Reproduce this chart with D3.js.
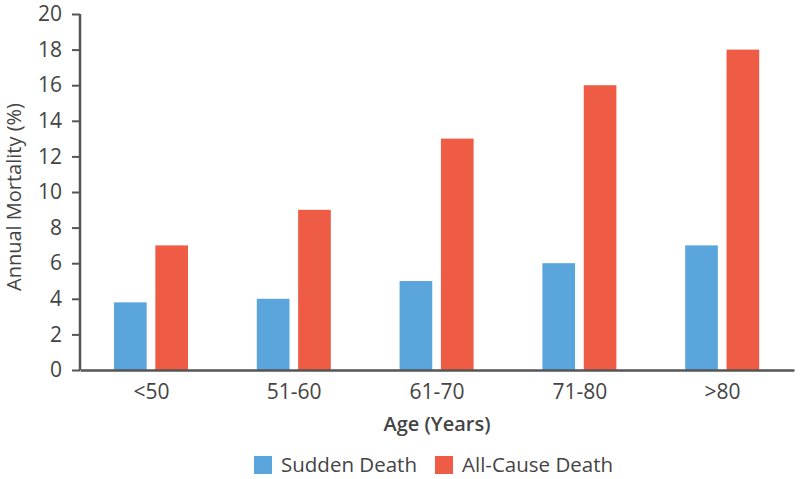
<!DOCTYPE html>
<html><head><meta charset="utf-8">
<script src="https://cdn.jsdelivr.net/npm/d3@7"></script>
<style>body{margin:0;background:#fff}svg text{font-family:"Open Sans",sans-serif;fill:#444}</style>
</head><body><svg id="c" width="800" height="479"></svg>
<script>
const categories = ["<50","51-60","61-70","71-80",">80"];
const suddenDeath = [3.8, 4, 5, 6, 7];
const allCauseDeath = [7, 9, 13, 16, 18];
const seriesNames = ["Sudden Death","All-Cause Death"];
const colors = ["#59a5dc","#ef5c45"];
const yTicks = [0,2,4,6,8,10,12,14,16,18,20];

const svg = d3.select("#c");
const x0 = d3.scaleBand().domain(categories).range([80,794]).padding(0);
const x1 = d3.scaleBand().domain(seriesNames).range([34,108]).paddingInner(0.21);
const y = d3.scaleLinear().domain([0,20]).range([370,14]);
const data = [suddenDeath, allCauseDeath];

const g = svg.append("g");
categories.forEach((c,i)=>{
  seriesNames.forEach((s,j)=>{
    g.append("rect").attr("x", x0(c)+x1(s)).attr("width", x1.bandwidth())
      .attr("y", y(data[j][i])).attr("height", y(0)-y(data[j][i])).attr("fill", colors[j]);
  });
});

const ya = svg.append("g").attr("transform","translate(80,0)")
  .call(d3.axisLeft(y).tickValues(yTicks).tickSize(8).tickPadding(10));
ya.select(".domain").attr("stroke","#555").attr("stroke-width",2.5).attr("d","M0,14V370");
ya.selectAll(".tick line").attr("stroke","#555").attr("stroke-width",2);
ya.selectAll(".tick text").attr("font-size",21).attr("fill","#444");

const xa = svg.append("g").attr("transform","translate(0,370)")
  .call(d3.axisBottom(x0).tickSize(0).tickPadding(14));
xa.select(".domain").attr("stroke","#555").attr("stroke-width",2.5);
xa.selectAll(".tick text").attr("font-size",21).attr("fill","#444").attr("dy","0.71em");

svg.append("text").attr("x",437).attr("y",431).attr("text-anchor","middle")
  .attr("font-size",20).attr("font-weight",600).text("Age (Years)");
svg.append("text").attr("transform","translate(21,197) rotate(-90)").attr("text-anchor","middle")
  .attr("font-size",20).text("Annual Mortality (%)");

const leg = svg.append("g");
const legX = [254, 435];
seriesNames.forEach((s,j)=>{
  leg.append("rect").attr("x",legX[j]).attr("y",456).attr("width",18).attr("height",18).attr("fill",colors[j]);
  leg.append("text").attr("x",legX[j]+27).attr("y",472).attr("font-size",20.5).text(s);
});
</script></body></html>
